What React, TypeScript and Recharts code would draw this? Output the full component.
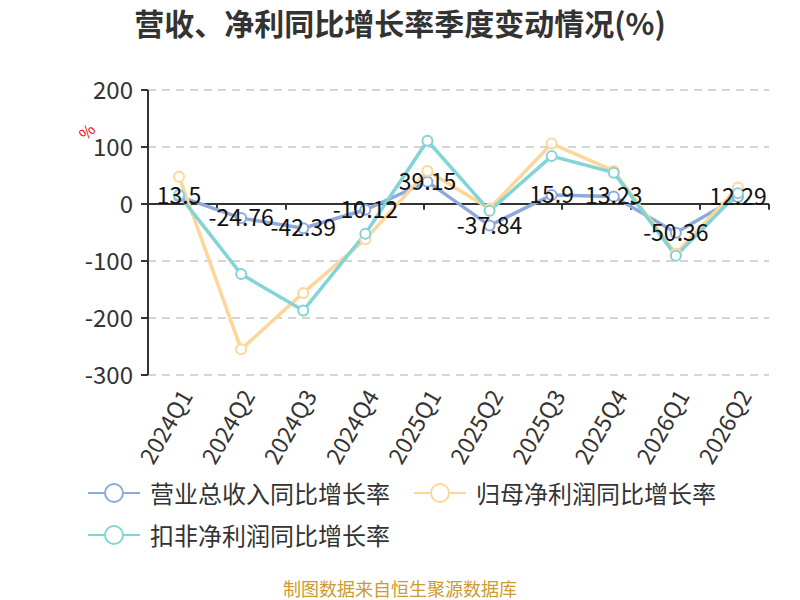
import React from "react";
import {
  CartesianGrid,
  LabelList,
  Line,
  LineChart,
  ReferenceLine,
  XAxis,
  YAxis,
} from "recharts";

// Quarterly YoY growth (%) for revenue, net profit and non-GAAP net profit.
const QUARTERS = [
  "2024Q1",
  "2024Q2",
  "2024Q3",
  "2024Q4",
  "2025Q1",
  "2025Q2",
  "2025Q3",
  "2025Q4",
  "2026Q1",
  "2026Q2",
];
const REVENUE = [13.5, -24.76, -42.39, -10.12, 39.15, -37.84, 15.9, 13.23, -50.36, 12.29];
const NET_PROFIT = [48, -255, -156, -62, 58, -8, 106, 58, -87, 29];
const NET_PROFIT_EX = [16, -123, -187, -52, 111, -12, 84, 55, -91, 19];
const Y_TICKS = [-300, -200, -100, 0, 100, 200];
// band boundaries on the zero line where the category axis draws its ticks
const BOUNDARIES = [1, 2, 3, 4, 5, 6, 7, 8, 9, 10];

const BLUE = "#8eaadb";
const GOLD = "#ffd699";
const TEAL = "#82d4d6";
const TEXT = "#333";
const FONT = '"Noto Sans CJK SC", "Noto Sans", sans-serif';

const SERIES = [
  { key: "revenue", label: "营业总收入同比增长率", color: BLUE },
  { key: "netProfit", label: "归母净利润同比增长率", color: GOLD },
  { key: "netProfitEx", label: "扣非净利润同比增长率", color: TEAL },
];

const data = QUARTERS.map((q, i) => ({
  q,
  revenue: REVENUE[i],
  netProfit: NET_PROFIT[i],
  netProfitEx: NET_PROFIT_EX[i],
}));

function QuarterTick({ x, y, payload }: any) {
  return (
    <text
      x={x + 6}
      y={y + 8}
      transform={`rotate(-60 ${x + 6} ${y + 8})`}
      textAnchor="end"
      dominantBaseline="central"
      fontSize={23}
      fill={TEXT}
      fontFamily={FONT}
    >
      {payload.value}
    </text>
  );
}

function ValueLabel({ x, y, value }: any) {
  return (
    <text
      x={x}
      y={y - 2}
      textAnchor="middle"
      dominantBaseline="central"
      fontSize={23}
      fill="#111"
      fontFamily={FONT}
    >
      {value}
    </text>
  );
}

function LegendIcon({ color }: { color: string }) {
  return (
    <svg width={52} height={24} style={{ marginRight: 10 }}>
      <line x1={0} y1={12} x2={52} y2={12} stroke={color} strokeWidth={2} />
      <circle cx={26} cy={12} r={9} fill="#fff" stroke={color} strokeWidth={2} />
    </svg>
  );
}

export default function App() {
  return (
    <div style={{ position: "relative", width: 800, height: 600, fontFamily: FONT, background: "#fff", overflow: "hidden" }}>
      <style>{`body{margin:0}`}</style>
      <div
        style={{
          position: "absolute",
          top: 2,
          left: 0,
          width: 800,
          textAlign: "center",
          fontSize: 30,
          lineHeight: "40px",
          fontWeight: 700,
          color: TEXT,
        }}
      >
        营收、净利同比增长率季度变动情况(%)
      </div>
      <div
        style={{
          position: "absolute",
          left: 79,
          top: 121,
          color: "#e00",
          fontSize: 16,
          lineHeight: "20px",
          transform: "rotate(-45deg)",
        }}
      >
        %
      </div>
      <LineChart
        width={800}
        height={600}
        data={data}
        margin={{ top: 90, right: 31, bottom: 0, left: 0 }}
      >
        <CartesianGrid vertical={false} stroke="#c8c8c8" strokeDasharray="8 6" strokeWidth={1.5} />
        <XAxis
          dataKey="q"
          scale="band"
          height={225}
          axisLine={false}
          tickLine={false}
          interval={0}
          tick={<QuarterTick />}
        />
        <XAxis xAxisId="b" type="number" domain={[0, 10]} hide />
        <YAxis
          width={148}
          domain={[-300, 200]}
          ticks={Y_TICKS}
          interval={0}
          axisLine={{ stroke: TEXT, strokeWidth: 2 }}
          tickLine={{ stroke: TEXT, strokeWidth: 2 }}
          tickSize={7}
          tickMargin={8}
          tick={{ fontSize: 24, fill: TEXT, fontFamily: FONT }}
        />
        <ReferenceLine y={0} stroke={TEXT} strokeWidth={2} />
        {BOUNDARIES.map((b) => (
          <ReferenceLine
            key={b}
            xAxisId="b"
            segment={[
              { x: b, y: 0 },
              { x: b, y: -10 },
            ]}
            stroke={TEXT}
            strokeWidth={2}
          />
        ))}
        {SERIES.map((s) => (
          <Line
            key={s.key}
            dataKey={s.key}
            type="linear"
            stroke={s.color}
            strokeWidth={3.5}
            dot={{ r: 5, fill: "#fff", stroke: s.color, strokeWidth: 2 }}
            isAnimationActive={false}
          />
        ))}
        {/* revenue labels drawn last so they sit above every line */}
        <Line
          dataKey="revenue"
          stroke="none"
          dot={false}
          activeDot={false}
          legendType="none"
          isAnimationActive={false}
        >
          <LabelList dataKey="revenue" content={<ValueLabel />} />
        </Line>
      </LineChart>
      <div
        style={{
          position: "absolute",
          left: 88,
          top: 477,
          width: 710,
          display: "flex",
          flexWrap: "wrap",
          rowGap: 10,
          fontSize: 24,
          lineHeight: "32px",
          color: TEXT,
        }}
      >
        {SERIES.map((s) => (
          <div key={s.key} style={{ display: "flex", alignItems: "center", marginRight: 24 }}>
            <LegendIcon color={s.color} />
            {s.label}
          </div>
        ))}
      </div>
      <div
        style={{
          position: "absolute",
          top: 577,
          left: 0,
          width: 800,
          textAlign: "center",
          fontSize: 18,
          lineHeight: "22px",
          color: "#cc9a2e",
        }}
      >
        制图数据来自恒生聚源数据库
      </div>
    </div>
  );
}
